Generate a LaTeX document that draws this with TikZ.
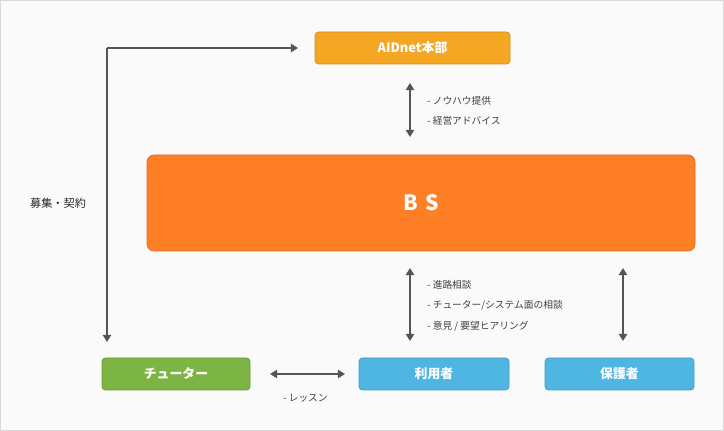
\documentclass[tikz,border=0pt]{standalone}
\usepackage{fontspec}
\setmainfont{Noto Sans CJK JP}
\usetikzlibrary{arrows.meta}
\definecolor{hq}{HTML}{F5A623}
\definecolor{bs}{HTML}{FF7F27}
\definecolor{tut}{HTML}{7DB544}
\definecolor{usr}{HTML}{4FB5E2}
\definecolor{arr}{HTML}{555555}
\tikzset{
 box/.style={rounded corners=3pt,draw=#1!85!black,fill=#1,line width=0.6pt,text=white,font=\bfseries\fontsize{11}{12}\selectfont,inner sep=0pt},
 conn/.style={arr,line width=1.6pt,{Triangle[length=6pt,width=7pt]}-{Triangle[length=6pt,width=7pt]}},
 one/.style={arr,line width=1.4pt,-{Triangle[length=6pt,width=7pt]}},
 lbl/.style={anchor=west,text=black!75,font=\fontsize{8.3}{10}\selectfont,inner sep=0pt},
}
\begin{document}
\begin{tikzpicture}[x=0.03cm,y=-0.03cm]
\useasboundingbox (0,0) rectangle (724,431);
\draw[draw=black!15,fill=black!2] (0.5,0.5) rectangle (723.5,430.5);
\node[box=hq,minimum width=195*0.03cm,minimum height=32*0.03cm] (hq) at (412.5,48) {AIDnet本部};
\node[box=bs,rounded corners=6pt,minimum width=548*0.03cm,minimum height=96*0.03cm,font=\bfseries\fontsize{18}{20}\selectfont] (bs) at (421,203) {B\,\,S};
\node[box=tut,minimum width=148*0.03cm,minimum height=32*0.03cm] (tu) at (176,374) {チューター};
\node[box=usr,minimum width=150*0.03cm,minimum height=32*0.03cm] (us) at (434,374) {利用者};
\node[box=usr,minimum width=149*0.03cm,minimum height=32*0.03cm] (pa) at (619.5,374) {保護者};
\coordinate (a1) at (410,83); \coordinate (a2) at (410,137);
\draw[conn] (a1) -- (a2);
\coordinate (b1) at (410,268); \coordinate (b2) at (410,341);
\draw[conn] (b1) -- (b2);
\coordinate (c1) at (623,268); \coordinate (c2) at (623,341);
\draw[conn] (c1) -- (c2);
\coordinate (d1) at (270,374); \coordinate (d2) at (345,374);
\draw[conn] (d1) -- (d2);
\coordinate (e0) at (107,48); \coordinate (e1) at (298,48); \coordinate (e2) at (107,342);
\draw[one] (e0) -- (e1);
\draw[one] (e0) -- (e2);
\node[lbl] (l1) at (427,101) {- ノウハウ提供};
\node[lbl] (l2) at (427,121) {- 経営アドバイス};
\node[lbl] (l3) at (427,285) {- 進路相談};
\node[lbl] (l4) at (427,305) {- チューター/システム面の相談};
\node[lbl] (l5) at (427,326) {- 意見 / 要望ヒアリング};
\node[lbl] (l6) at (283,398) {- レッスン};
\node[lbl,font=\fontsize{9.5}{11}\selectfont,text=black!85] (l7) at (30,203) {募集・契約};
\end{tikzpicture}
\end{document}
